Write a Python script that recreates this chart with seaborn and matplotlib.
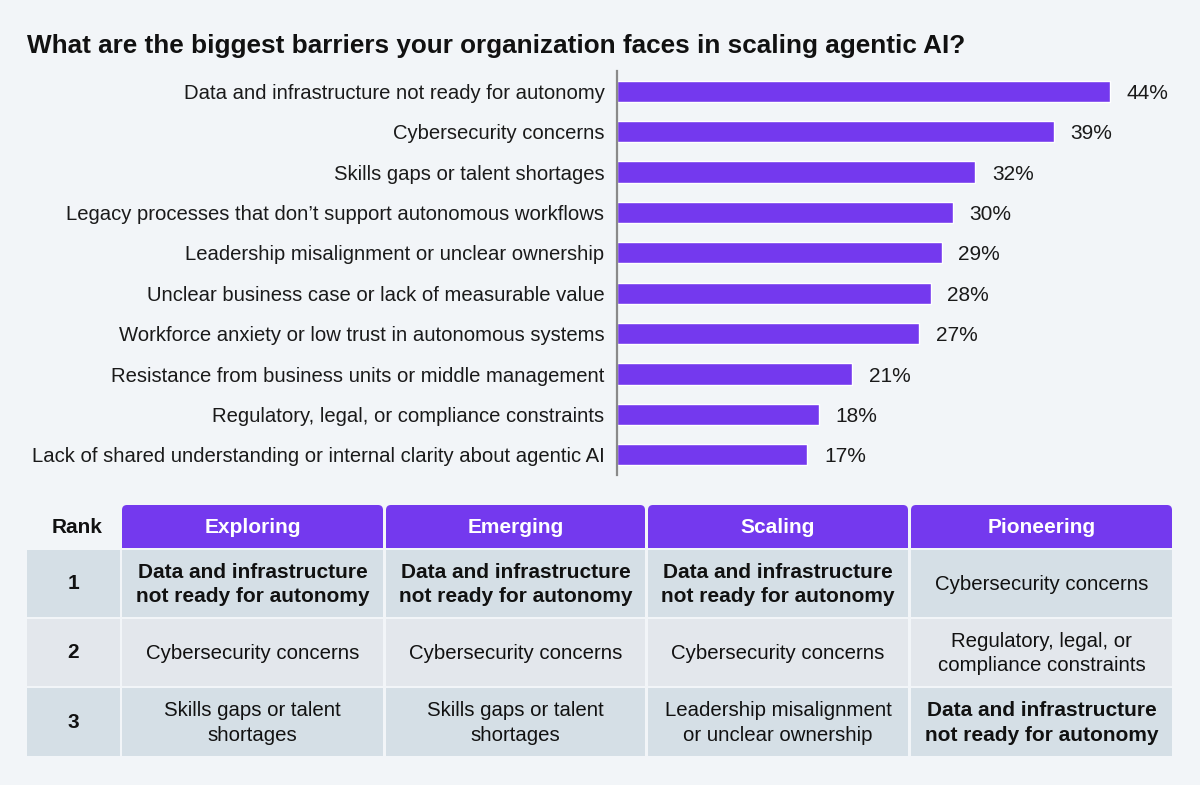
import matplotlib
matplotlib.use("Agg")
import matplotlib.pyplot as plt
from matplotlib.patches import Rectangle, FancyBboxPatch
import seaborn as sns
import pandas as pd

# ---------------- data ----------------
categories = [
    "Data and infrastructure not ready for autonomy",
    "Cybersecurity concerns",
    "Skills gaps or talent shortages",
    "Legacy processes that don\u2019t support autonomous workflows",
    "Leadership misalignment or unclear ownership",
    "Unclear business case or lack of measurable value",
    "Workforce anxiety or low trust in autonomous systems",
    "Resistance from business units or middle management",
    "Regulatory, legal, or compliance constraints",
    "Lack of shared understanding or internal clarity about agentic AI",
]
values = [44, 39, 32, 30, 29, 28, 27, 21, 18, 17]

title = "What are the biggest barriers your organization faces in scaling agentic AI?"

stages = ["Exploring", "Emerging", "Scaling", "Pioneering"]
ranks = ["1", "2", "3"]
exploring = ["Data and infrastructure\nnot ready for autonomy",
             "Cybersecurity concerns",
             "Skills gaps or talent\nshortages"]
emerging = ["Data and infrastructure\nnot ready for autonomy",
            "Cybersecurity concerns",
            "Skills gaps or talent\nshortages"]
scaling = ["Data and infrastructure\nnot ready for autonomy",
           "Cybersecurity concerns",
           "Leadership misalignment\nor unclear ownership"]
pioneering = ["Cybersecurity concerns",
              "Regulatory, legal, or\ncompliance constraints",
              "Data and infrastructure\nnot ready for autonomy"]
highlight = "Data and infrastructure\nnot ready for autonomy"

# ---------------- style ----------------
BG = "#f2f5f8"
PURPLE = "#7439ee"
ROW_DARK = "#d5dfe6"
ROW_LIGHT = "#e3e7ec"
sns.set_theme(style="white")
plt.rcParams["font.family"] = ["Liberation Sans", "DejaVu Sans"]

W, H = 1200, 785
fig = plt.figure(figsize=(12, 7.85), dpi=100, facecolor=BG)

# ---------------- bar chart ----------------
ax_left, ax_right, ax_top, ax_bot = 617, 1180, 71, 475
ax = fig.add_axes([ax_left / W, 1 - ax_bot / H, (ax_right - ax_left) / W, (ax_bot - ax_top) / H])
ax.set_facecolor(BG)
df = pd.DataFrame({"barrier": categories, "pct": values})
sns.barplot(data=df, y="barrier", x="pct", color=PURPLE, saturation=1,
            width=0.52, orient="h", ax=ax)
ax.set_xlim(0, (ax_right - ax_left) / 11.2)
ax.set_ylim(len(categories) - 0.5, -0.5)
ax.set_xlabel("")
ax.set_ylabel("")
ax.set_xticks([])
ax.tick_params(axis="y", length=0, pad=9, labelsize=14.6, labelcolor="#1a1a1a")
for s in ["top", "right", "bottom"]:
    ax.spines[s].set_visible(False)
ax.spines["left"].set_color("#8a8a8a")
ax.spines["left"].set_linewidth(1.6)
lbls = ax.bar_label(ax.containers[0], labels=[f"{v}%" for v in values],
                    padding=12, fontsize=15, color="#1a1a1a")
for t in lbls:
    t.set_va("center_baseline")

fig.text(27 / W, 1 - 46 / H, title, fontsize=18.8, fontweight="bold",
         color="#111111", ha="left", va="center")

# ---------------- table ----------------
tax = fig.add_axes([0, 0, 1, 1])
tax.set_xlim(0, W)
tax.set_ylim(H, 0)
tax.axis("off")
tax.patch.set_alpha(0)

col_x = [(122, 383), (386, 645), (648, 908), (911, 1172)]
rank_x = (27, 120)
head_y = (505, 548)
row_y = [(550, 617), (619, 686), (688, 756)]
columns = [exploring, emerging, scaling, pioneering]

# header
for (x0, x1), name in zip(col_x, stages):
    r = 5
    tax.add_patch(FancyBboxPatch((x0 + r, head_y[0] + r), (x1 - x0) - 2 * r,
                                 (head_y[1] - head_y[0]) - 2 * r,
                                 boxstyle=f"round,pad={r}", facecolor=PURPLE,
                                 edgecolor="none"))
    tax.add_patch(Rectangle((x0, head_y[0] + 15), x1 - x0, head_y[1] - head_y[0] - 15,
                            facecolor=PURPLE, edgecolor="none"))
    tax.text((x0 + x1) / 2, (head_y[0] + head_y[1]) / 2 + 1, name, color="white",
             fontsize=15, fontweight="bold", ha="center", va="center")
tax.text((rank_x[0] + rank_x[1]) / 2 + 4, (head_y[0] + head_y[1]) / 2 + 1, "Rank",
         color="#111111", fontsize=15, fontweight="bold", ha="center", va="center")

# rows
for i, ((y0, y1), rk) in enumerate(zip(row_y, ranks)):
    fc = ROW_DARK if i % 2 == 0 else ROW_LIGHT
    tax.add_patch(Rectangle((rank_x[0], y0), rank_x[1] - rank_x[0], y1 - y0,
                            facecolor=fc, edgecolor="none"))
    tax.text((rank_x[0] + rank_x[1]) / 2, (y0 + y1) / 2, rk, fontsize=15,
             fontweight="bold", ha="center", va="center", color="#111111")
    for (x0, x1), col in zip(col_x, columns):
        tax.add_patch(Rectangle((x0, y0), x1 - x0, y1 - y0, facecolor=fc,
                                edgecolor="none"))
        txt = col[i]
        bold = txt == highlight
        tax.text((x0 + x1) / 2, (y0 + y1) / 2 + 1, txt, fontsize=15 if bold else 14.7,
                 fontweight="bold" if bold else "normal", ha="center", va="center",
                 color="#111111", linespacing=1.38, multialignment="center")

fig.savefig("out.png", dpi=100, facecolor=BG)
